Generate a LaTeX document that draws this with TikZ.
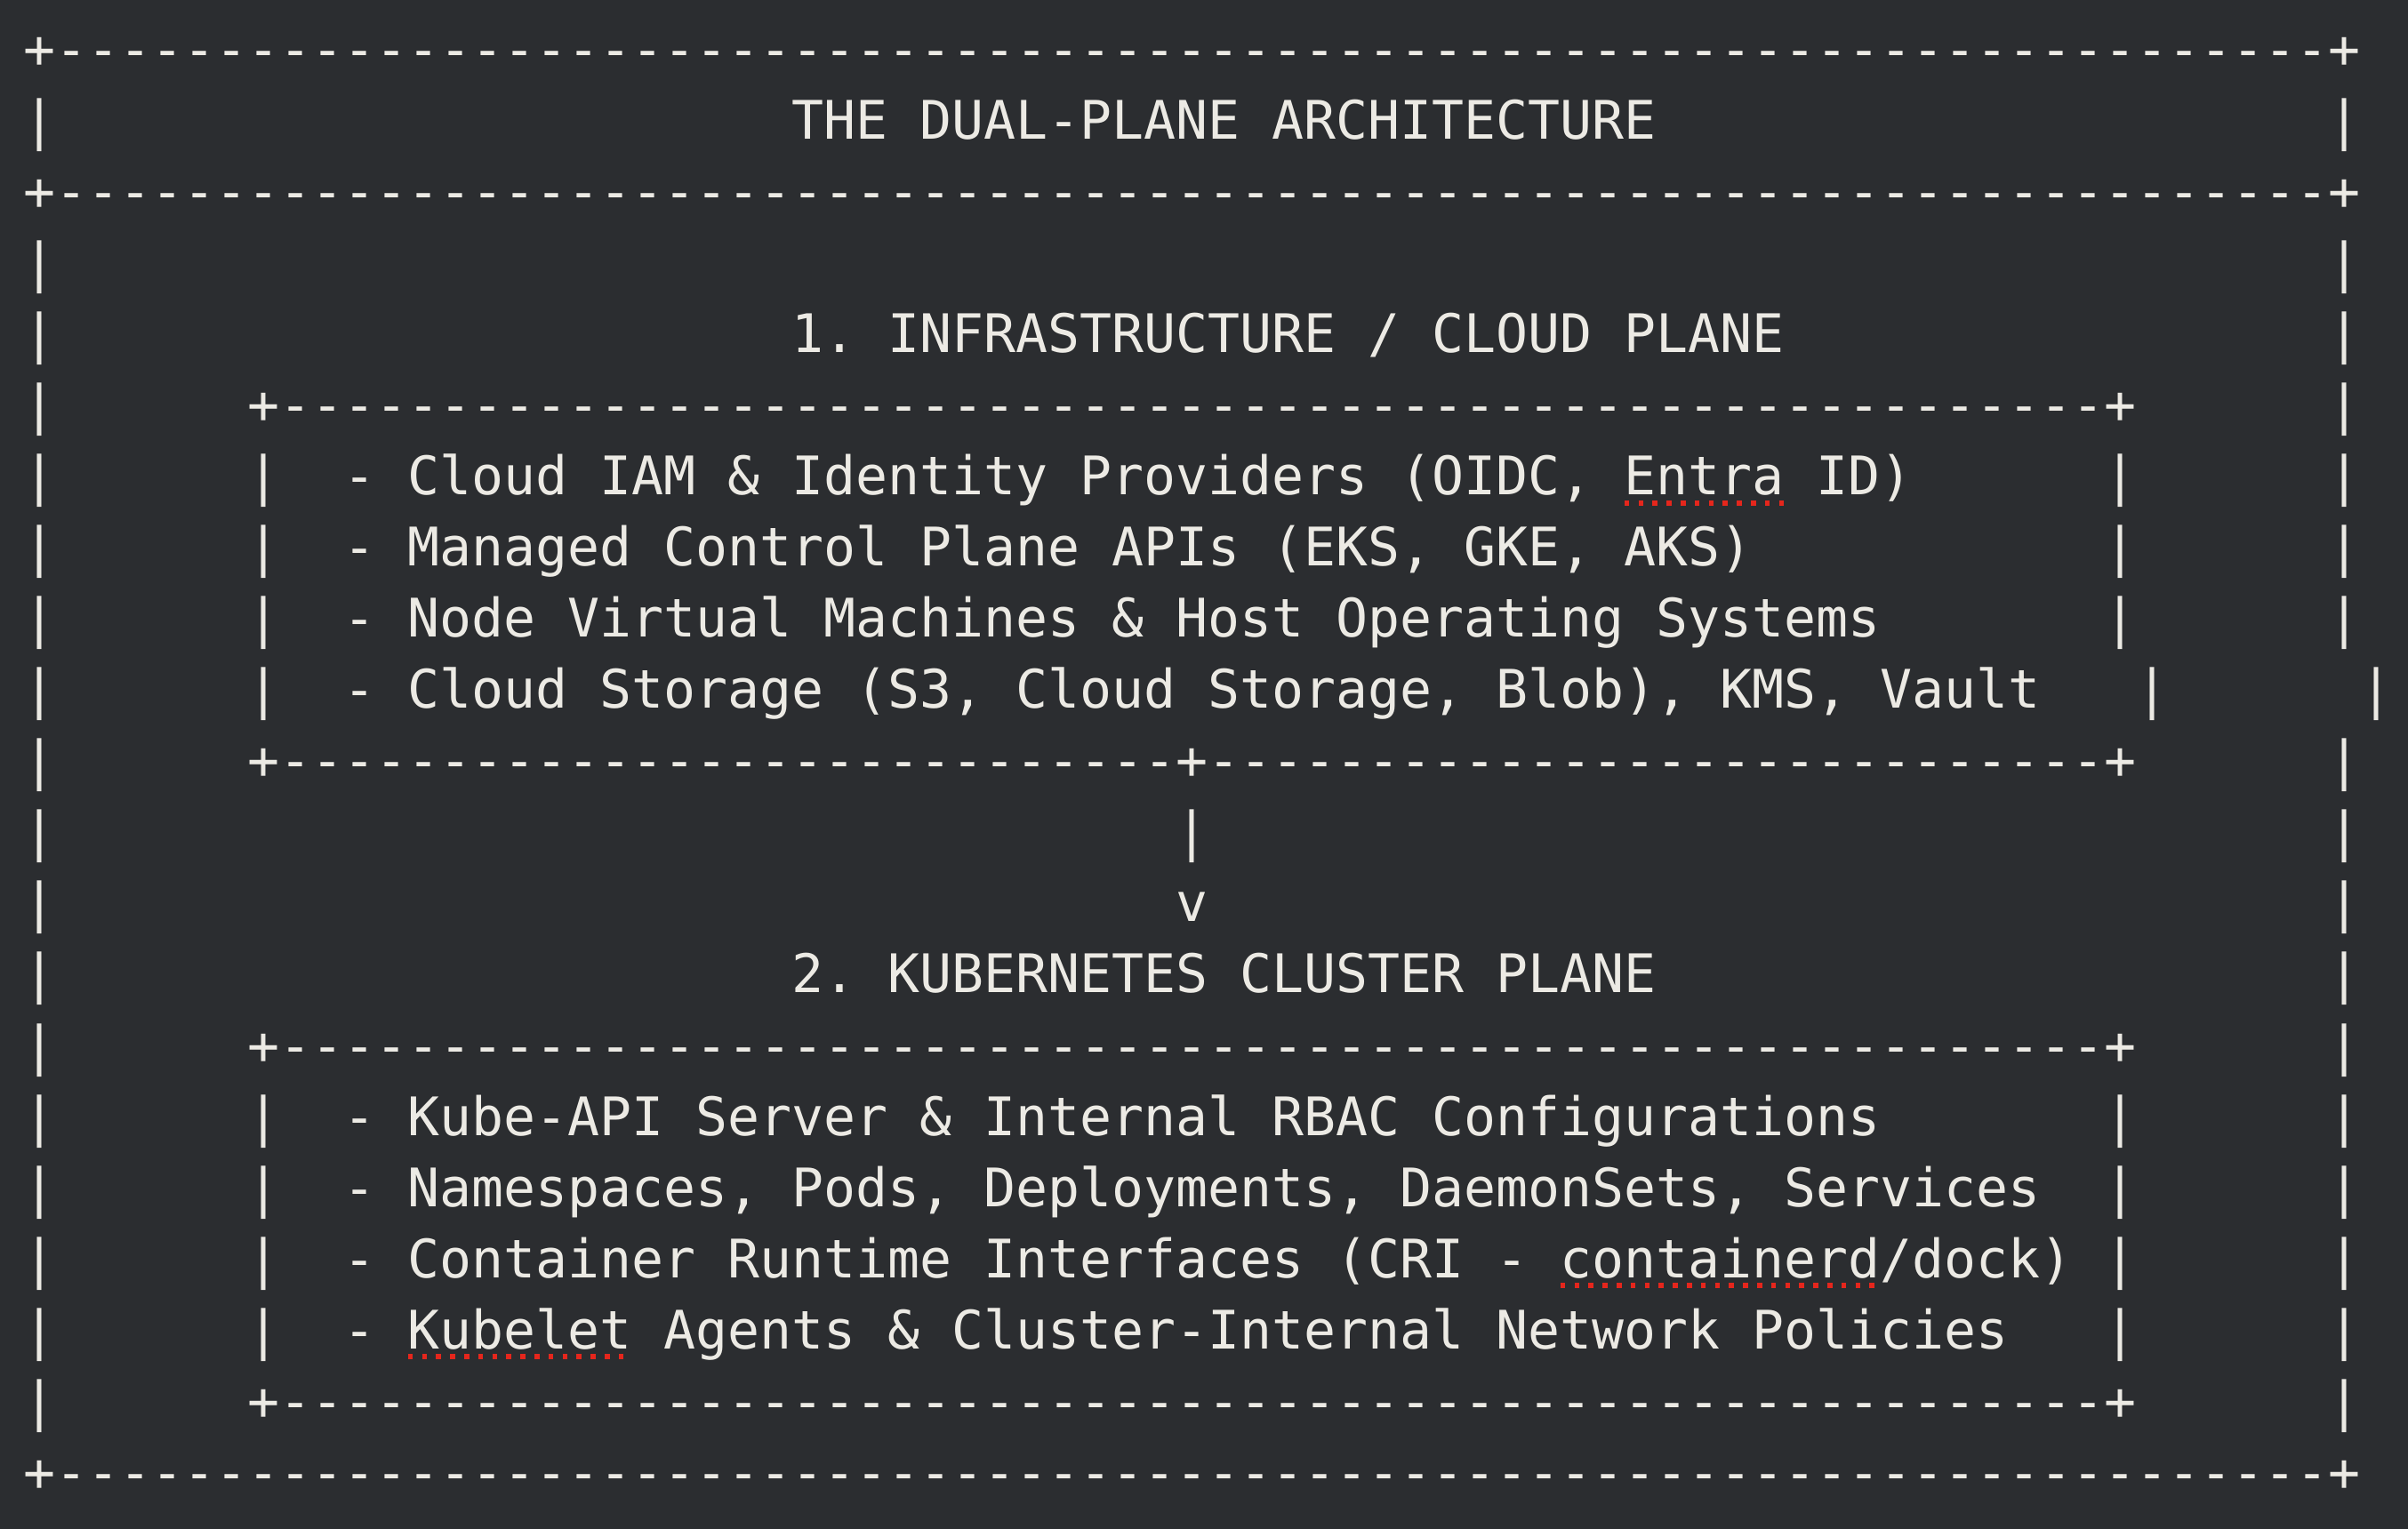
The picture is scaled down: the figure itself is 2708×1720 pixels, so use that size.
\documentclass[tikz,border=0pt]{standalone}
\usepackage{fontspec}
\setmonofont{DejaVu Sans Mono}
\definecolor{bg}{HTML}{2B2D30}
\definecolor{fg}{HTML}{ECEAE4}
\definecolor{spell}{HTML}{E5261C}
\ExplSyntaxOn
\NewDocumentCommand\hy{m}{\prg_replicate:nn{#1}{\hbox{-}}}
\ExplSyntaxOff
\newcommand\seg[4]{\node[txt] (#1) at ({26.8+36*#2},{77+80*#3}) {#4};}
\begin{document}
\begin{tikzpicture}[x=0.25pt,y=-0.25pt,
  txt/.style={anchor=base west,inner sep=0pt,outer sep=0pt,text=fg,
    font=\ttfamily\fontsize{14.949pt}{18pt}\selectfont},
  squig/.style={draw=spell,line width=1.4pt,dash pattern=on 1.4pt off 2.55pt}]
\fill[bg] (0,0) rectangle (2708,1720);
\useasboundingbox (0,0) rectangle (2708,1720);
% outer frame and title
\seg{t0}{0}{0}{+\hy{71}+}
\seg{t1l}{0}{1}{|}
\seg{title}{24}{1}{THE DUAL-PLANE ARCHITECTURE}
\seg{t1r}{72}{1}{|}
\seg{t2}{0}{2}{+\hy{71}+}
\foreach \r in {3,...,19}{\seg{L\r}{0}{\r}{|}}
\foreach \r in {3,4,5,6,7,8,10,11,12,13,14,15,16,17,18,19}{\seg{R\r}{72}{\r}{|}}
\seg{R9}{73}{9}{|}
% plane 1
\seg{h1}{24}{4}{1. INFRASTRUCTURE / CLOUD PLANE}
\seg{b1top}{7}{5}{+\hy{57}+}
\foreach \r in {6,7,8,9}{\seg{a\r}{7}{\r}{|}}
\foreach \r in {6,7,8}{\seg{c\r}{65}{\r}{|}}
\seg{c9}{66}{9}{|}
\seg{i1}{10}{6}{- Cloud IAM \& Identity Providers (OIDC,}
\seg{entra}{50}{6}{Entra}
\seg{i1b}{56}{6}{ID)}
\seg{i2}{10}{7}{- Managed Control Plane APIs (EKS, GKE, AKS)}
\seg{i3}{10}{8}{- Node Virtual Machines \& Host Operating Systems}
\seg{i4}{10}{9}{- Cloud Storage (S3, Cloud Storage, Blob), KMS, Vault}
\seg{b1bot}{7}{10}{+\hy{28}+\hy{28}+}
% arrow
\seg{shaft}{36}{11}{|}
\seg{head}{36}{12}{v}
% plane 2
\seg{h2}{24}{13}{2. KUBERNETES CLUSTER PLANE}
\seg{b2top}{7}{14}{+\hy{57}+}
\foreach \r in {15,16,17,18}{\seg{a\r}{7}{\r}{|}\seg{c\r}{65}{\r}{|}}
\seg{k1}{10}{15}{- Kube-API Server \& Internal RBAC Configurations}
\seg{k2}{10}{16}{- Namespaces, Pods, Deployments, DaemonSets, Services}
\seg{k3}{10}{17}{- Container Runtime Interfaces (CRI -}
\seg{ctrd}{48}{17}{containerd}
\seg{k3b}{58}{17}{/dock)}
\seg{k4d}{10}{18}{-}
\seg{kubelet}{12}{18}{Kubelet}
\seg{k4}{20}{18}{Agents \& Cluster-Internal Network Policies}
\seg{b2bot}{7}{19}{+\hy{57}+}
\seg{t20}{0}{20}{+\hy{71}+}
% spell-check marks
\draw[squig] ([yshift=-2.3pt]entra.base west) -- ([yshift=-2.3pt]entra.base east);
\draw[squig] ([yshift=-2.3pt]ctrd.base west) -- ([yshift=-2.3pt]ctrd.base east);
\draw[squig] ([yshift=-2.3pt]kubelet.base west) -- ([yshift=-2.3pt]kubelet.base east);
\end{tikzpicture}
\end{document}
